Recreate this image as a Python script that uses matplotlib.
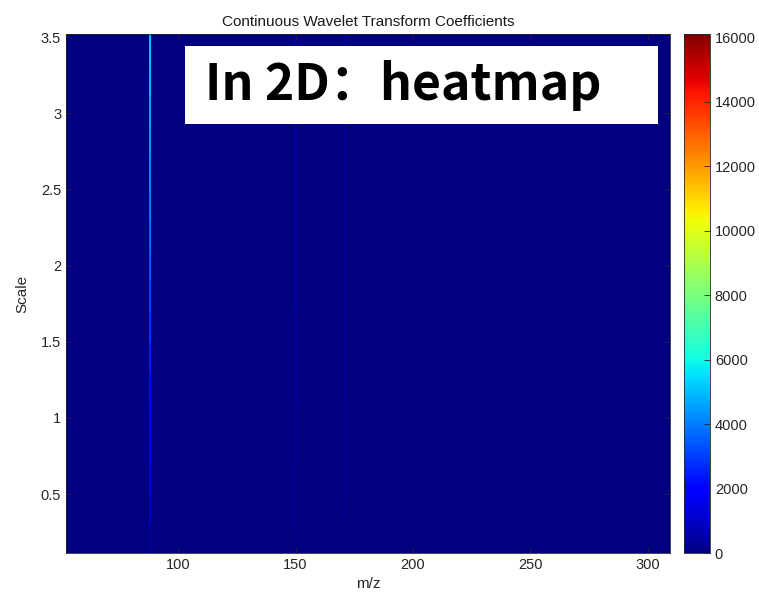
import numpy as np
import matplotlib
matplotlib.use("Agg")
import matplotlib.pyplot as plt
from matplotlib.patches import Rectangle

plt.rcParams['font.family'] = ['Liberation Sans', 'DejaVu Sans']

# m/z grid (bin centres) and wavelet scales
mz = np.arange(53, 310)
scales = [0.2, 0.4, 0.6, 0.8, 1.0, 1.2, 1.4, 1.6, 1.8,
          2.0, 2.2, 2.4, 2.6, 2.8, 3.0, 3.2, 3.4]

# coefficient columns of the peaks, one value per scale (bottom to top)
peak_mz = [88, 150, 171]
peak_coefs = [
    [400, 900, 1300, 1600, 1900, 2200, 2500, 2800, 3100,
     3400, 3650, 3900, 4150, 4400, 4600, 4800, 5000],
    [150, 200, 250, 280, 300, 320, 340, 360, 380,
     400, 410, 420, 430, 440, 450, 460, 470],
    [100, 150, 200, 230, 250, 270, 290, 300, 310,
     320, 330, 340, 350, 360, 370, 380, 390],
]

cbar_ticks = [0, 2000, 4000, 6000, 8000, 10000, 12000, 14000, 16000]

coefs = np.zeros((len(scales), len(mz)))
for p, col in zip(peak_mz, peak_coefs):
    coefs[:, list(mz).index(p)] = col

mz_edges = np.concatenate([[52.3], mz[:-1] + 0.5, [309.4]])
sc = np.array(scales)
scale_edges = np.concatenate([[0.113], (sc[:-1] + sc[1:]) / 2, [3.52]])

fig = plt.figure(figsize=(7.59, 6.04), dpi=100)
ax = fig.add_axes([0.087, 0.0844, 0.7957, 0.8593])
cax = fig.add_axes([0.9012, 0.0844, 0.0342, 0.8593])

mesh = ax.pcolormesh(mz_edges, scale_edges, coefs, cmap='jet',
                     vmin=0, vmax=16100, shading='flat')
ax.set_xlim(52.3, 309.4)
ax.set_ylim(0.113, 3.52)
ax.set_xticks([100, 150, 200, 250, 300])
ax.set_yticks([0.5, 1, 1.5, 2, 2.5, 3, 3.5])
ax.set_yticklabels(['0.5', '1', '1.5', '2', '2.5', '3', '3.5'])
ax.tick_params(direction='in', top=True, right=True, labelsize=10.5,
               colors='#262626', length=4, width=0.6)
for s in ax.spines.values():
    s.set_color('#262626')
    s.set_linewidth(0.6)
ax.set_xlabel('m/z', fontsize=11, color='#262626')
ax.set_ylabel('Scale', fontsize=11, color='#262626', labelpad=8)
ax.set_title('Continuous Wavelet Transform Coefficients', fontsize=11,
             color='#1a1a1a', pad=6)

cb = fig.colorbar(mesh, cax=cax, ticks=cbar_ticks)
cb.ax.tick_params(direction='in', labelsize=10.5, colors='#262626',
                  length=4, width=0.6)
cb.outline.set_edgecolor('#262626')
cb.outline.set_linewidth(0.6)

# annotation box
ax.add_patch(Rectangle((102.9, 2.93), 201.3, 0.51, facecolor='white',
                       edgecolor='none', zorder=5))
ax.text(111.5, 3.185, 'In 2D：heatmap', fontsize=36, fontweight='bold',
        family=['Noto Sans CJK SC', 'DejaVu Sans'], color='black',
        va='center', ha='left', zorder=6)

fig.savefig('out.png', dpi=100)
